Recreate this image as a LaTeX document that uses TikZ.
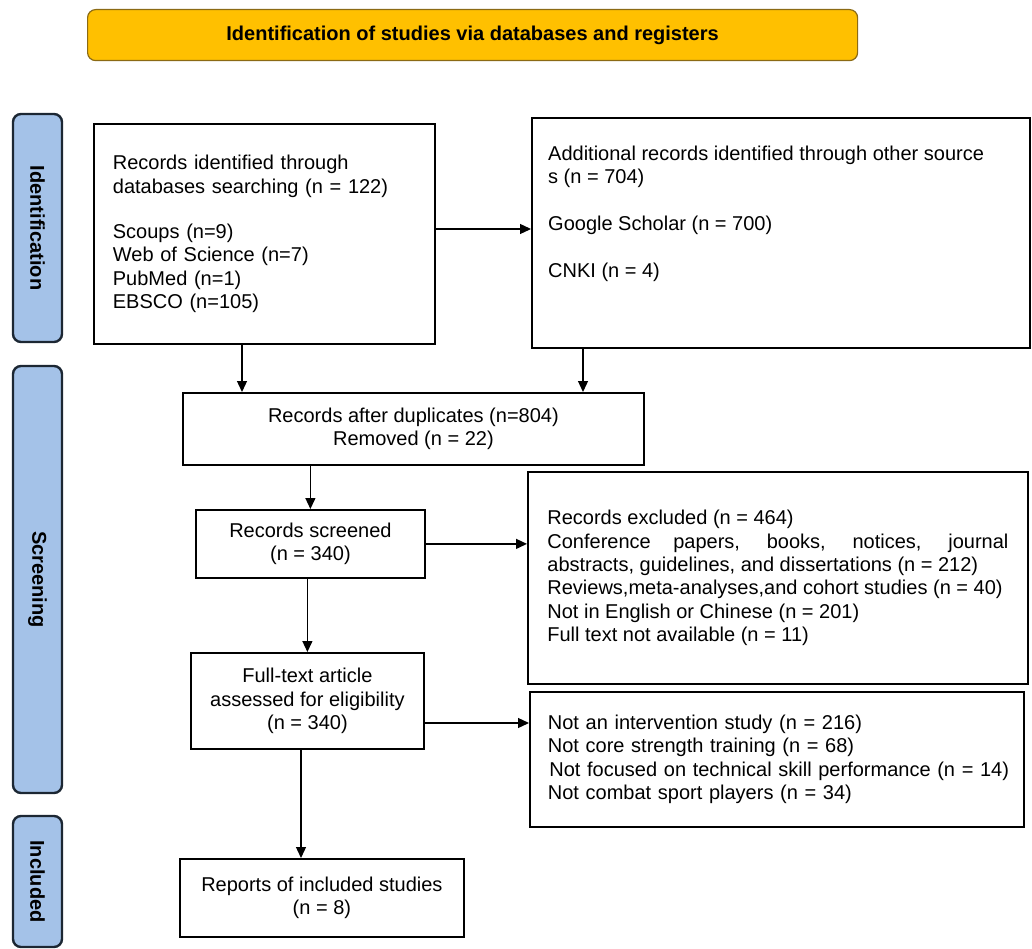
\documentclass[tikz,border=0pt]{standalone}
\usepackage{fontspec}
\setmainfont{Liberation Sans}
\usetikzlibrary{arrows.meta}
\definecolor{barblue}{HTML}{A4C2E8}
\definecolor{barline}{HTML}{1C2733}
\definecolor{titlefill}{HTML}{FFC000}
\definecolor{titleline}{HTML}{8B6A14}
\begin{document}
\begin{tikzpicture}[x=1pt,y=-1pt,
  box/.style={draw=black, line width=1.8pt, inner sep=0pt, anchor=north west,
    font=\fontsize{20}{23.3}\selectfont},
  txt/.style={inner sep=0pt, align=left, anchor=north west,
    font=\fontsize{20}{23.3}\selectfont},
  arr/.style={-{Triangle[length=11pt,width=10pt]}, line width=1.3pt},
  bar/.style={draw=barline, line width=2.4pt, fill=barblue, rounded corners=8pt,
    rotate=-90, minimum height=49pt, inner sep=0pt,
    font=\fontsize{20}{24}\selectfont\bfseries},
  titlebox/.style={draw=titleline, line width=1.2pt, fill=titlefill, rounded corners=8pt,
    anchor=north west, inner sep=0pt, font=\fontsize{20}{24}\selectfont\bfseries}]
\useasboundingbox (0,0) rectangle (1032,949);
% title
\node[titlebox, minimum width=770pt, minimum height=51pt] (T) at (87,9)
  {\raisebox{-1.5pt}{Identification of studies via databases and registers}};
% side bars
\node[bar, minimum width=228pt] (idbar) at (37.5,228) {Identification};
\node[bar, minimum width=427pt] (scbar) at (37.5,579.5) {Screening};
\node[bar, minimum width=131pt] (inbar) at (37.5,881.5) {Included};
% boxes
\node[box, minimum width=341pt, minimum height=220pt, text width=303pt,
  inner xsep=19pt, align=left] (A) at (93,123)
  {Records identified through\\databases searching (n = 122)\\[22pt]Scoups (n=9)\\Web of Science (n=7)\\PubMed (n=1)\\EBSCO (n=105)};
\node[box, minimum width=498pt, minimum height=230pt] (B) at (531,117) {};
\node[txt] (Bt) at (548,144)
  {\strut Additional records identified through other source\\s (n = 704)\\[23.3pt]Google Scholar (n = 700)\\[23.3pt]CNKI (n = 4)};
\node[box, align=center, minimum width=461pt, minimum height=72pt] (C) at (182,392)
  {Records after duplicates (n=804)\\Removed (n = 22)};
\node[box, align=center, minimum width=229pt, minimum height=68pt] (D) at (195,509)
  {Records screened\\(n = 340)};
\node[box, align=left, minimum width=500pt, minimum height=212pt] (E) at (527,471)
  {Records excluded (n = 464)\\\makebox[461pt][s]{Conference papers, books, notices, journal}\\abstracts, guidelines, and dissertations (n = 212)\\Reviews,meta-analyses,and cohort studies (n = 40)\\Not in English or Chinese (n = 201)\\Full text not available (n = 11)};
\node[box, align=left, minimum width=494pt, minimum height=135pt, text width=458pt,
  inner xsep=18pt] (G) at (529,691)
  {\mbox{Not an intervention study (n = 216)}\\\mbox{Not core strength training (n = 68)}\\\mbox{\hspace*{1.5pt}Not focused on technical skill performance (n = 14)}\\\mbox{Not combat sport players (n = 34)}};
\node[box, align=center, minimum width=233pt, minimum height=96pt] (F) at (190,652)
  {Full-text article\\assessed for eligibility\\(n = 340)};
\node[box, align=center, minimum width=284pt, minimum height=78pt] (H) at (179,858)
  {Reports of included studies\\(n = 8)};
% helper coordinates
\coordinate (ab) at (0,229);
\coordinate (ac) at (242,0);
\coordinate (bc) at (583,0);
\coordinate (fg) at (0,723);
\coordinate (fh) at (301,0);
% connectors
\draw[arr] (A.east |- ab) -- (B.west |- ab);
\draw[arr] (A.south -| ac) -- (C.north -| ac);
\draw[arr] (B.south -| bc) -- (C.north -| bc);
\draw[arr] (C.south -| D.north) -- (D.north);
\draw[arr] (D.east) -- (D.east -| E.west);
\draw[arr] (D.south -| F.north) -- (F.north);
\draw[arr] (F.east |- fg) -- (G.west |- fg);
\draw[arr] (F.south -| fh) -- (H.north -| fh);
\end{tikzpicture}
\end{document}
